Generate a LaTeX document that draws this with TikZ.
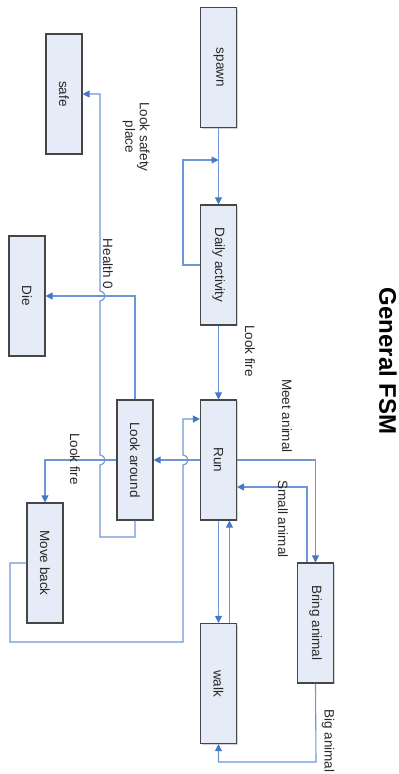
\documentclass[tikz,border=0pt]{standalone}
\usepackage{fontspec}
\setmainfont{Liberation Sans}
\usetikzlibrary{arrows.meta,shadows}
\definecolor{boxfill}{RGB}{230,236,247}
\definecolor{boxedge}{RGB}{70,70,70}
\definecolor{linec}{RGB}{110,150,215}
\definecolor{tipc}{RGB}{70,120,200}
\definecolor{txt}{RGB}{40,40,40}
\tikzset{
  statebox/.style={draw=boxedge, line width=1.1pt, fill=boxfill,
    minimum width=36pt, minimum height=120pt, inner sep=0pt,
    font=\fontsize{13.5}{15}\selectfont, text=txt,
    drop shadow={shadow xshift=1.2pt, shadow yshift=-1.2pt, opacity=0.35}},
  conn/.style={draw=linec, line width=1.1pt,
    -{Triangle[length=7pt,width=7pt,fill=tipc,color=tipc]}},
  plain/.style={draw=linec, line width=1.1pt},
  lbl/.style={rotate=-90, font=\fontsize{13.5}{14.5}\selectfont, text=txt,
    inner sep=0pt, align=center},
}
\newcommand{\rt}[1]{\rotatebox{-90}{#1}}
\begin{document}
\begin{tikzpicture}[x=1pt,y=-1pt]
\useasboundingbox (0,0) rectangle (399,774);
% states
\node[statebox] (spawn) at (218.5,67.5) {\rt{spawn}};
\node[statebox] (daily) at (218.5,265) {\rt{Daily activity}};
\node[statebox] (run)   at (218.5,460) {\rt{Run}};
\node[statebox] (walk)  at (218.5,683.5) {\rt{walk}};
\node[statebox] (bring) at (315.5,623) {\rt{Bring animal}};
\node[statebox] (look)  at (135,460) {\rt{Look around}};
\node[statebox] (safe)  at (64,94) {\rt{safe}};
\node[statebox] (die)   at (27,296) {\rt{Die}};
\node[statebox] (move)  at (45,563) {\rt{Move back}};
% title
\node[rotate=-90, font=\fontsize{24}{26}\selectfont\bfseries, text=black] (title) at (388,361) {General FSM};
% helper coordinates
\coordinate (dl) at (183,160);
\coordinate (b1) at (307,487);
\coordinate (bb) at (316,762);
\coordinate (m1) at (10,642);
\coordinate (m2) at (183,419);
\coordinate (s1) at (100,537);
% spawn -> daily
\draw[conn] (spawn.south) -- (daily.north);
% daily self loop
\draw[conn] (daily.west) -| (dl) -- (spawn.south |- dl);
% daily -> run
\draw[conn] (daily.south) -- (run.north);
% run -> bring
\draw[conn] (run.east) -| (bring.north);
% bring -> run
\draw[conn] (bring.north -| b1) -- (b1) -- (run.east |- b1);
% run <-> walk
\draw[conn] (run.south) -- (walk.north);
\draw[conn] ([xshift=11pt]walk.north) -- ([xshift=11pt]run.south);
% bring -> walk
\draw[conn] (bring.south) -- (bb) -| (walk.south);
% run -> look around
\draw[conn] (run.west) -- (look.east);
% move back -> run (with hop)
\draw[conn] (move.west) -| (m1) -| (183,465) arc[start angle=-90, end angle=90, radius=5pt] -- (m2) -- (run.west |- m2);
% look around -> move back
\draw[conn] (look.west) -| (move.north);
% look around -> safe (with hops)
\draw[conn] (look.south) |- (s1) -- (100,465) arc[start angle=-90, end angle=90, radius=5pt]
  -- (100,301) arc[start angle=-90, end angle=90, radius=5pt] -- (100,94) -- (safe.east);
% look around -> die
\draw[conn] (look.north) |- (die.east);
% labels
\node[lbl] (l1) at (250,351) {Look fire};
\node[lbl] (l2) at (287,416) {Meet animal};
\node[lbl] (l3) at (283,519) {Small animal};
\node[lbl] (l4) at (328,741) {Big animal};
\node[lbl] (l5) at (75,459) {Look fire};
\node[lbl] (l6) at (136,137) {Look safety\\place};
\node[lbl] (l7) at (108,264) {Health 0};
\end{tikzpicture}
\end{document}
